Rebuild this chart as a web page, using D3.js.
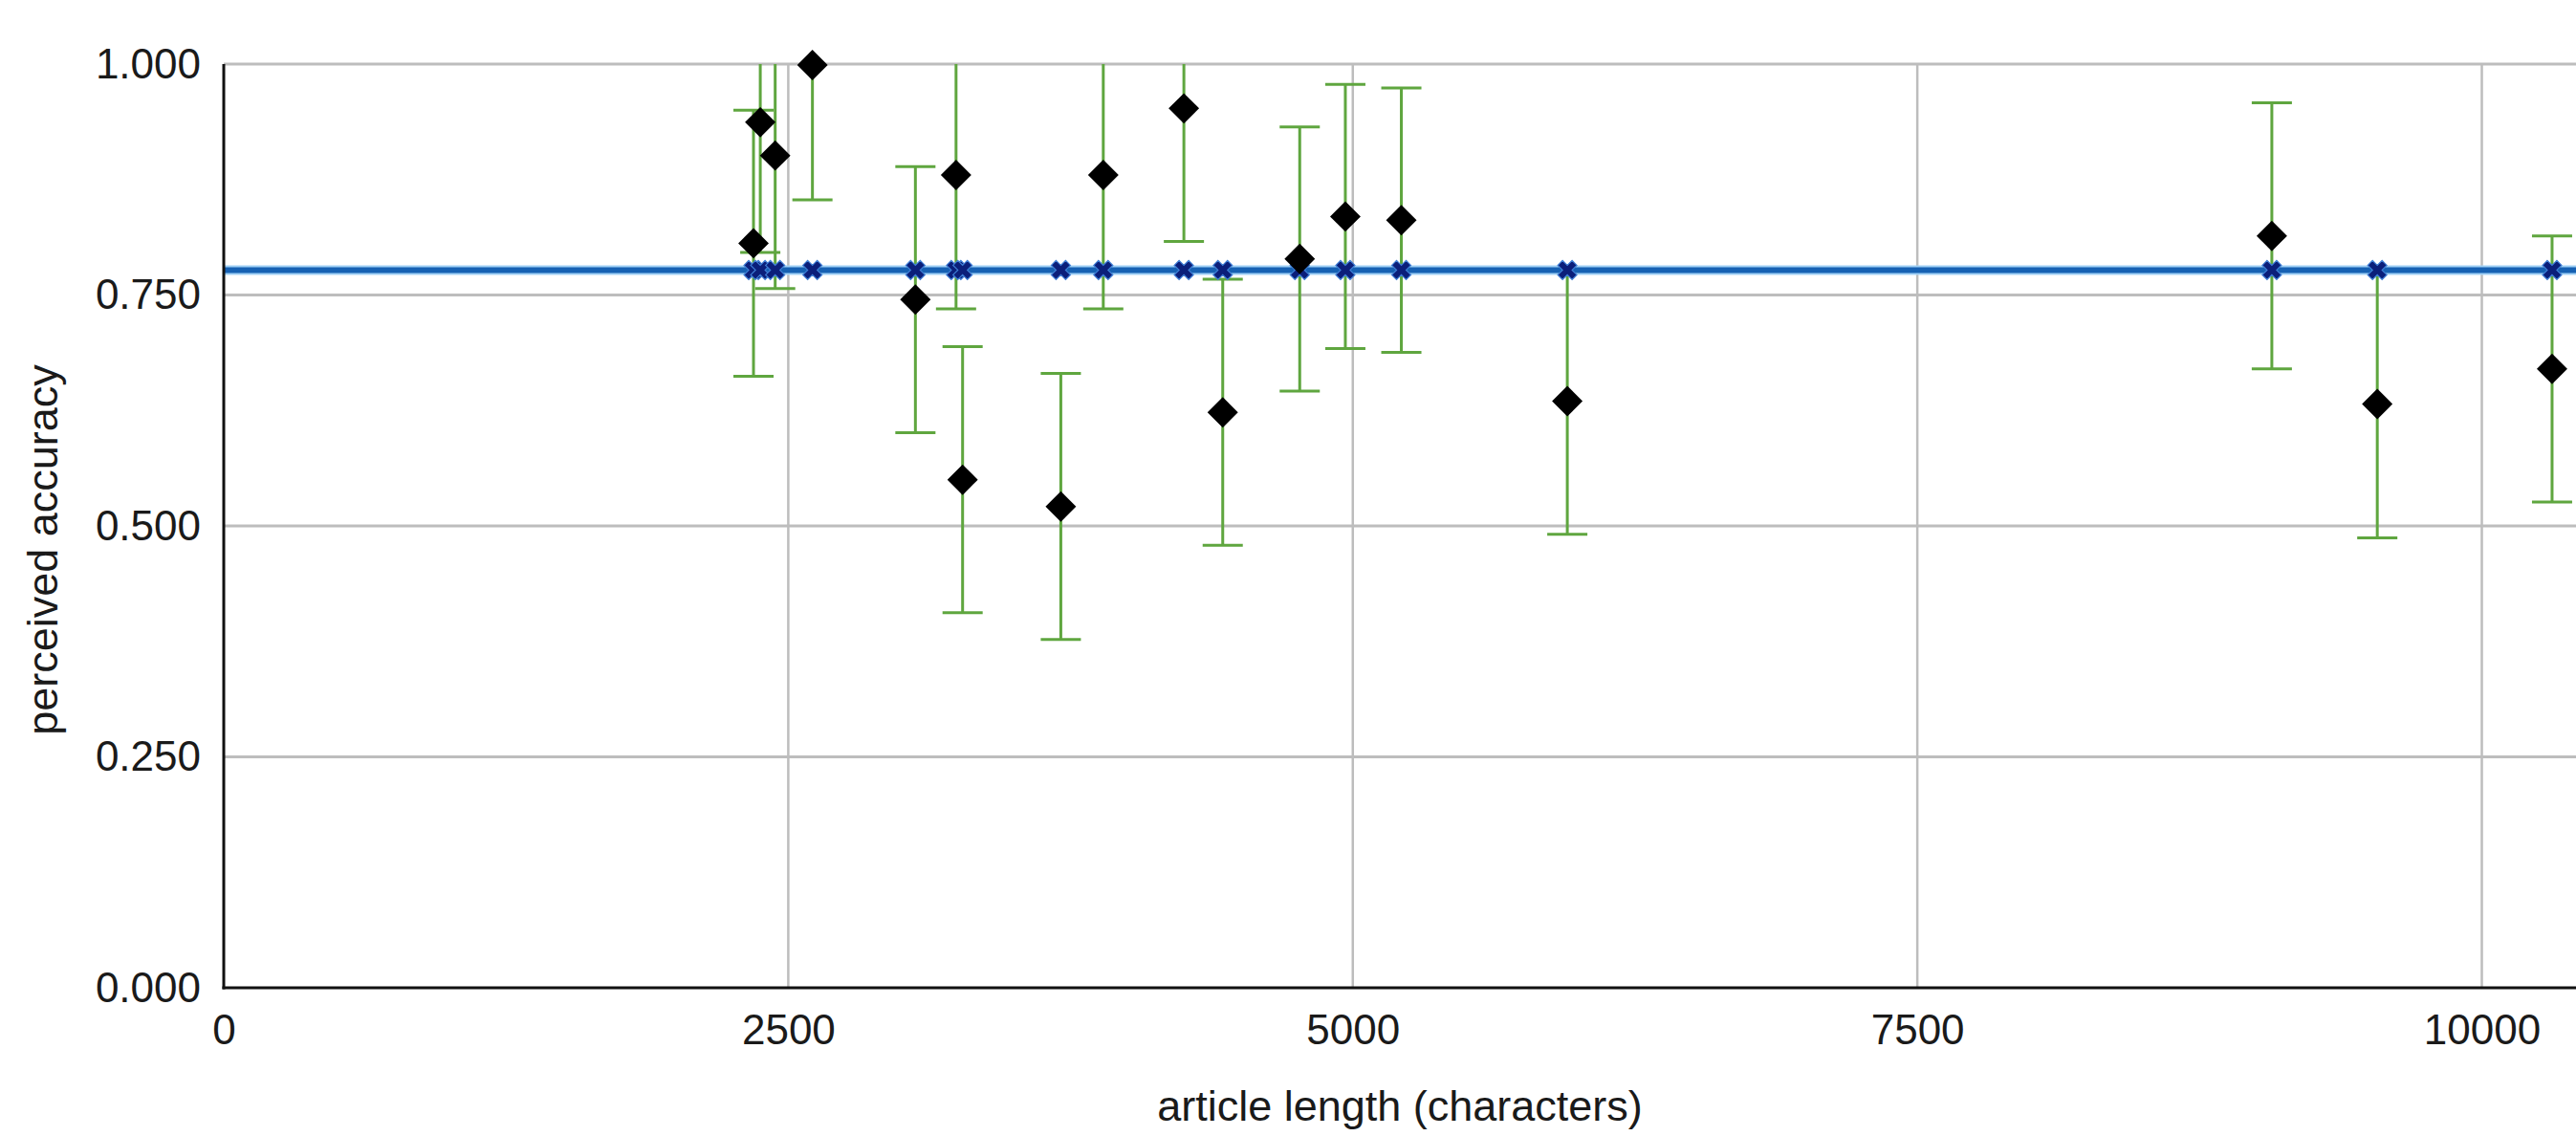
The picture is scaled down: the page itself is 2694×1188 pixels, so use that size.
<!DOCTYPE html>
<html>
<head>
<meta charset="utf-8">
<script src="https://cdn.jsdelivr.net/npm/d3@7"></script>
<style>
  html, body { margin: 0; padding: 0; background: #ffffff; }
  svg { display: block; }
  text { font-family: "Liberation Sans", Arial, sans-serif; fill: #1a1a1a; }
</style>
</head>
<body>
<svg id="chart" width="2694" height="1188"></svg>
<script>
// ---- data ----
const articleLength = [2346, 2376, 2442, 2607, 3063, 3243, 3272, 3707, 3895, 4252, 4424, 4765, 4967, 5215, 5950, 9070, 9537, 10311];
const perceivedAccuracy = [0.806, 0.937, 0.901, 0.999, 0.745, 0.880, 0.550, 0.521, 0.880, 0.952, 0.623, 0.789, 0.835, 0.831, 0.635, 0.814, 0.632, 0.670];
const accuracyError = [0.144, 0.141, 0.144, 0.146, 0.144, 0.145, 0.144, 0.144, 0.145, 0.144, 0.144, 0.143, 0.143, 0.143, 0.144, 0.144, 0.145, 0.144];
const meanAccuracy = 0.777;
const xTicks = [0, 2500, 5000, 7500, 10000];
const yTicks = [0, 0.25, 0.5, 0.75, 1.0];
const xTitle = "article length (characters)";
const yTitle = "perceived accuracy";

// ---- layout ----
const W = 2694, H = 1188;
const m = { left: 234, right: 0, top: 67, bottom: 155 };
const svg = d3.select("#chart");

const x = d3.scaleLinear().domain([0, 10417]).range([m.left, W - m.right]);
const y = d3.scaleLinear().domain([0, 1]).range([H - m.bottom, m.top]);

const points = articleLength.map((v, i) => ({ x: v, y: perceivedAccuracy[i], e: accuracyError[i] }));

// clip for error bars
svg.append("defs").append("clipPath").attr("id", "plotclip")
  .append("rect").attr("x", m.left).attr("y", m.top)
  .attr("width", W - m.left - m.right).attr("height", H - m.bottom - m.top);

// ---- gridlines ----
const grid = svg.append("g");
grid.selectAll("line.h").data(yTicks.filter(d => d > 0)).join("line")
  .attr("x1", m.left).attr("x2", W - m.right)
  .attr("y1", d => y(d)).attr("y2", d => y(d))
  .attr("stroke", "#bdbdbd").attr("stroke-width", 3);
grid.selectAll("line.v").data(xTicks.filter(d => d > 0)).join("line")
  .attr("x1", d => x(d)).attr("x2", d => x(d))
  .attr("y1", m.top).attr("y2", H - m.bottom)
  .attr("stroke", "#bdbdbd").attr("stroke-width", 2.5);

// ---- axes ----
const xAxis = d3.axisBottom(x).tickValues(xTicks).tickSize(0).tickPadding(28).tickFormat(d3.format("d"));
const yAxis = d3.axisLeft(y).tickValues(yTicks).tickSize(0).tickPadding(24).tickFormat(d3.format(".3f"));

const gx = svg.append("g").attr("transform", `translate(0,${H - m.bottom})`).call(xAxis);
gx.select(".domain").remove();
gx.selectAll("text").attr("font-size", 44).attr("font-family", "Liberation Sans, Arial, sans-serif").attr("fill", "#1a1a1a");

const gy = svg.append("g").attr("transform", `translate(${m.left},0)`).call(yAxis);
gy.select(".domain").remove();
gy.selectAll("text").attr("font-size", 44).attr("font-family", "Liberation Sans, Arial, sans-serif").attr("fill", "#1a1a1a");

// ---- error bars ----
const eb = svg.append("g").attr("clip-path", "url(#plotclip)");
const capHalf = 21;
eb.selectAll("line.stem").data(points).join("line")
  .attr("x1", d => x(d.x)).attr("x2", d => x(d.x))
  .attr("y1", d => y(d.y + d.e)).attr("y2", d => y(d.y - d.e))
  .attr("stroke", "#5fa63f").attr("stroke-width", 3);
eb.selectAll("line.top").data(points).join("line")
  .attr("x1", d => x(d.x) - capHalf).attr("x2", d => x(d.x) + capHalf)
  .attr("y1", d => y(d.y + d.e)).attr("y2", d => y(d.y + d.e))
  .attr("stroke", "#5fa63f").attr("stroke-width", 3);
eb.selectAll("line.bot").data(points).join("line")
  .attr("x1", d => x(d.x) - capHalf).attr("x2", d => x(d.x) + capHalf)
  .attr("y1", d => y(d.y - d.e)).attr("y2", d => y(d.y - d.e))
  .attr("stroke", "#5fa63f").attr("stroke-width", 3);

// ---- mean line ----
svg.append("line")
  .attr("x1", m.left).attr("x2", W - m.right)
  .attr("y1", y(meanAccuracy)).attr("y2", y(meanAccuracy))
  .attr("stroke", "#9fd0f5").attr("stroke-width", 10);
svg.append("line")
  .attr("x1", m.left).attr("x2", W - m.right)
  .attr("y1", y(meanAccuracy)).attr("y2", y(meanAccuracy))
  .attr("stroke", "#1661b3").attr("stroke-width", 6);

// ---- mean markers ----
const xMark = d3.symbol().type(d3.symbolCross).size(250);
svg.append("g").selectAll("path").data(articleLength).join("path")
  .attr("d", xMark)
  .attr("transform", d => `translate(${x(d)},${y(meanAccuracy)}) rotate(45)`)
  .attr("fill", "#0b1f7a").attr("stroke", "#3f7fd6").attr("stroke-width", 1.2);

// ---- axis lines ----
svg.append("line").attr("x1", m.left).attr("x2", m.left)
  .attr("y1", m.top).attr("y2", H - m.bottom + 1.5)
  .attr("stroke", "#111").attr("stroke-width", 3);
svg.append("line").attr("x1", m.left - 1.5).attr("x2", W - m.right)
  .attr("y1", H - m.bottom).attr("y2", H - m.bottom)
  .attr("stroke", "#111").attr("stroke-width", 3);

// ---- data diamonds ----
const diamond = d3.symbol().type(d3.symbolSquare).size(510);
svg.append("g").selectAll("path").data(points).join("path")
  .attr("d", diamond)
  .attr("transform", d => `translate(${x(d.x)},${y(d.y)}) rotate(45)`)
  .attr("fill", "#000");

// ---- titles ----
svg.append("text")
  .attr("x", (m.left + W - m.right) / 2).attr("y", 1172)
  .attr("text-anchor", "middle").attr("font-size", 45)
  .text(xTitle);
svg.append("text")
  .attr("transform", `translate(60,575) rotate(-90)`)
  .attr("text-anchor", "middle").attr("font-size", 45)
  .text(yTitle);
</script>
</body>
</html>
